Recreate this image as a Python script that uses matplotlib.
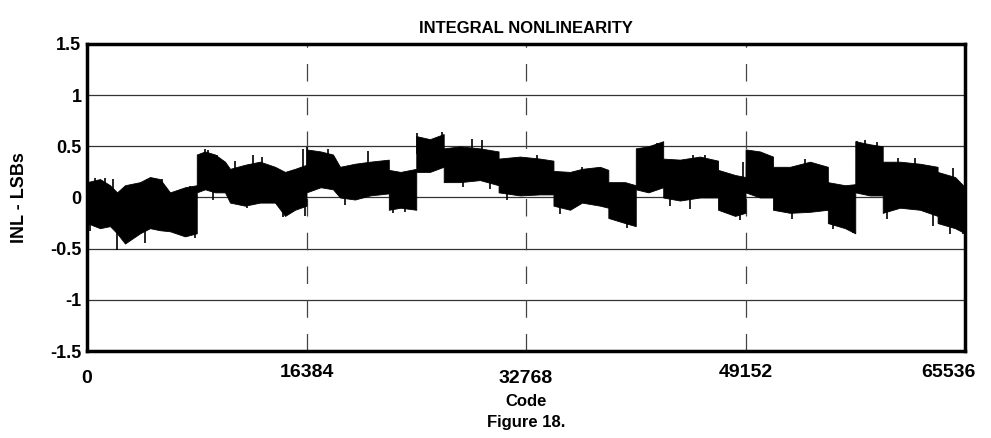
import numpy as np
import matplotlib.pyplot as plt
from matplotlib.transforms import ScaledTranslation

plt.rcParams['font.family'] = ['Liberation Sans', 'DejaVu Sans']
plt.rcParams['font.weight'] = 'bold'

# envelope of the INL band (code, upper, lower)
codes = [0, 970, 1717, 2240, 2836, 3956, 4700, 5449, 6195, 7315, 8191,
         8192, 8807, 9554, 10300, 10674, 11793, 12913, 14032, 14779, 15525, 16383,
         16384, 17440, 18360, 18884, 20000, 21120, 22527,
         22528, 23400, 24575,
         24576, 25600, 26623,
         26624, 27840, 29330, 30719,
         30720, 32320, 33810, 34815,
         34816, 36050, 36950, 38290, 38911,
         38912, 40160, 40959,
         40960, 41900, 43007,
         43008, 44260, 45750, 47103,
         47104, 48370, 49151,
         49152, 50230, 51199,
         51200, 52470, 53960, 55295,
         55296, 56580, 57343,
         57344, 58440, 59391,
         59392, 60680, 62170, 63487,
         63488, 64790, 65535]
upper = [0.15, 0.18, 0.12, 0.05, 0.12, 0.15, 0.20, 0.18, 0.05, 0.10, 0.12,
         0.42, 0.45, 0.42, 0.35, 0.28, 0.32, 0.35, 0.30, 0.25, 0.28, 0.32,
         0.47, 0.45, 0.42, 0.30, 0.33, 0.35, 0.37,
         0.27, 0.25, 0.28,
         0.60, 0.57, 0.62,
         0.48, 0.50, 0.48, 0.45,
         0.38, 0.40, 0.38, 0.36,
         0.26, 0.25, 0.28, 0.30, 0.27,
         0.15, 0.15, 0.12,
         0.48, 0.50, 0.55,
         0.38, 0.37, 0.40, 0.36,
         0.27, 0.22, 0.20,
         0.47, 0.45, 0.40,
         0.30, 0.30, 0.35, 0.30,
         0.15, 0.12, 0.13,
         0.55, 0.52, 0.50,
         0.35, 0.35, 0.33, 0.30,
         0.25, 0.20, 0.10]
lower = [-0.25, -0.30, -0.28, -0.35, -0.45, -0.35, -0.30, -0.32, -0.33, -0.38, -0.35,
         0.05, 0.08, 0.05, 0.05, -0.05, -0.08, -0.05, -0.05, -0.18, -0.12, -0.08,
         0.05, 0.10, 0.08, 0.00, -0.02, 0.02, 0.04,
         -0.12, -0.10, -0.12,
         0.25, 0.25, 0.30,
         0.15, 0.15, 0.17, 0.12,
         0.05, 0.02, 0.03, 0.03,
         -0.08, -0.12, -0.05, -0.08, -0.10,
         -0.20, -0.25, -0.28,
         0.08, 0.05, 0.10,
         0.00, -0.03, 0.00, 0.00,
         -0.12, -0.18, -0.15,
         0.05, 0.00, 0.00,
         -0.12, -0.15, -0.14, -0.12,
         -0.25, -0.30, -0.35,
         0.05, 0.02, 0.02,
         -0.15, -0.10, -0.12, -0.18,
         -0.25, -0.30, -0.35]

# single-code spikes sticking out of the band
spike_up_codes = [597, 1344, 1941, 4478, 5076, 5598, 7688, 8807, 9031, 9703,
                  11047, 12390, 13062, 16122, 16421, 17988, 20974, 24631, 26497,
                  28736, 29483, 33588, 36947, 42545, 45232, 46128, 48964, 50382,
                  53592, 57473, 58070, 58966, 60533, 61802, 64638]
spike_up_vals = [0.19, 0.19, 0.18, 0.18, 0.19, 0.18, 0.11, 0.47, 0.46, 0.42,
                 0.36, 0.42, 0.40, 0.47, 0.49, 0.47, 0.45, 0.63, 0.64,
                 0.57, 0.56, 0.42, 0.30, 0.53, 0.42, 0.42, 0.35, 0.43,
                 0.38, 0.55, 0.56, 0.54, 0.39, 0.39, 0.29]
spike_dn_codes = [224, 2239, 4329, 8061, 9405, 11942, 14629, 16300, 19257,
                  22840, 23736, 28065, 30080, 31349, 35305, 40306, 43515,
                  45008, 48740, 52621, 55681, 57174, 59712, 63146, 64415, 65385]
spike_dn_vals = [-0.33, -0.51, -0.44, -0.40, -0.02, -0.10, -0.19, -0.18, -0.07,
                 -0.15, -0.14, 0.10, 0.08, -0.02, -0.16, -0.30, -0.08,
                 -0.11, -0.22, -0.21, -0.31, -0.35, -0.21, -0.28, -0.36, -0.36]

xticks = [0, 16384, 32768, 49152, 65536]
yticks = [-1.5, -1, -0.5, 0, 0.5, 1, 1.5]
ylabels = ['-1.5', '-1', '-0.5', '0', '0.5', '1', '1.5']

fig = plt.figure(figsize=(9.91, 4.38), dpi=100)
ax = fig.add_axes([0.0878, 0.1986, 0.886, 0.701])

ax.fill_between(codes, lower, upper, color='black', lw=0.6, zorder=3)

mid = (np.array(upper) + np.array(lower)) / 2
ax.vlines(spike_up_codes, np.interp(spike_up_codes, codes, mid), spike_up_vals,
          color='black', lw=1.2, zorder=3)
ax.vlines(spike_dn_codes, spike_dn_vals, np.interp(spike_dn_codes, codes, mid),
          color='black', lw=1.2, zorder=3)

for y in [-1, -0.5, 0, 0.5, 1]:
    ax.axhline(y, color='#333333', lw=0.9, zorder=1)
for x in xticks[1:-1]:
    ax.axvline(x, color='#444444', lw=0.9, dashes=(14, 13), zorder=1)

ax.set_xlim(0, 65536)
ax.set_ylim(-1.5, 1.5)
ax.set_xticks(xticks)
ax.set_xticklabels([str(v) for v in xticks], fontsize=14)
ax.set_yticks(yticks)
ax.set_yticklabels(ylabels, fontsize=13)
ax.tick_params(length=0, pad=4)
ax.tick_params(axis='x', pad=9)
for s in ax.spines.values():
    s.set_linewidth(2.5)

# staggered code labels like the original figure
labs = ax.get_xticklabels()
for i in [0, 2]:
    labs[i].set_transform(labs[i].get_transform() + ScaledTranslation(0, -5 / 72, fig.dpi_scale_trans))
labs[4].set_transform(labs[4].get_transform() + ScaledTranslation(-12 / 72, 0, fig.dpi_scale_trans))

ax.set_title('INTEGRAL NONLINEARITY', fontsize=12, fontweight='bold', pad=8)
ax.set_ylabel('INL - LSBs', fontsize=13, fontweight='bold', labelpad=16)
ax.set_xlabel('Code', fontsize=12, fontweight='bold', labelpad=5)
fig.text(0.531, 0.025, 'Figure 18.', ha='center', fontsize=12, fontweight='bold')

fig.savefig('out.png', dpi=100)
